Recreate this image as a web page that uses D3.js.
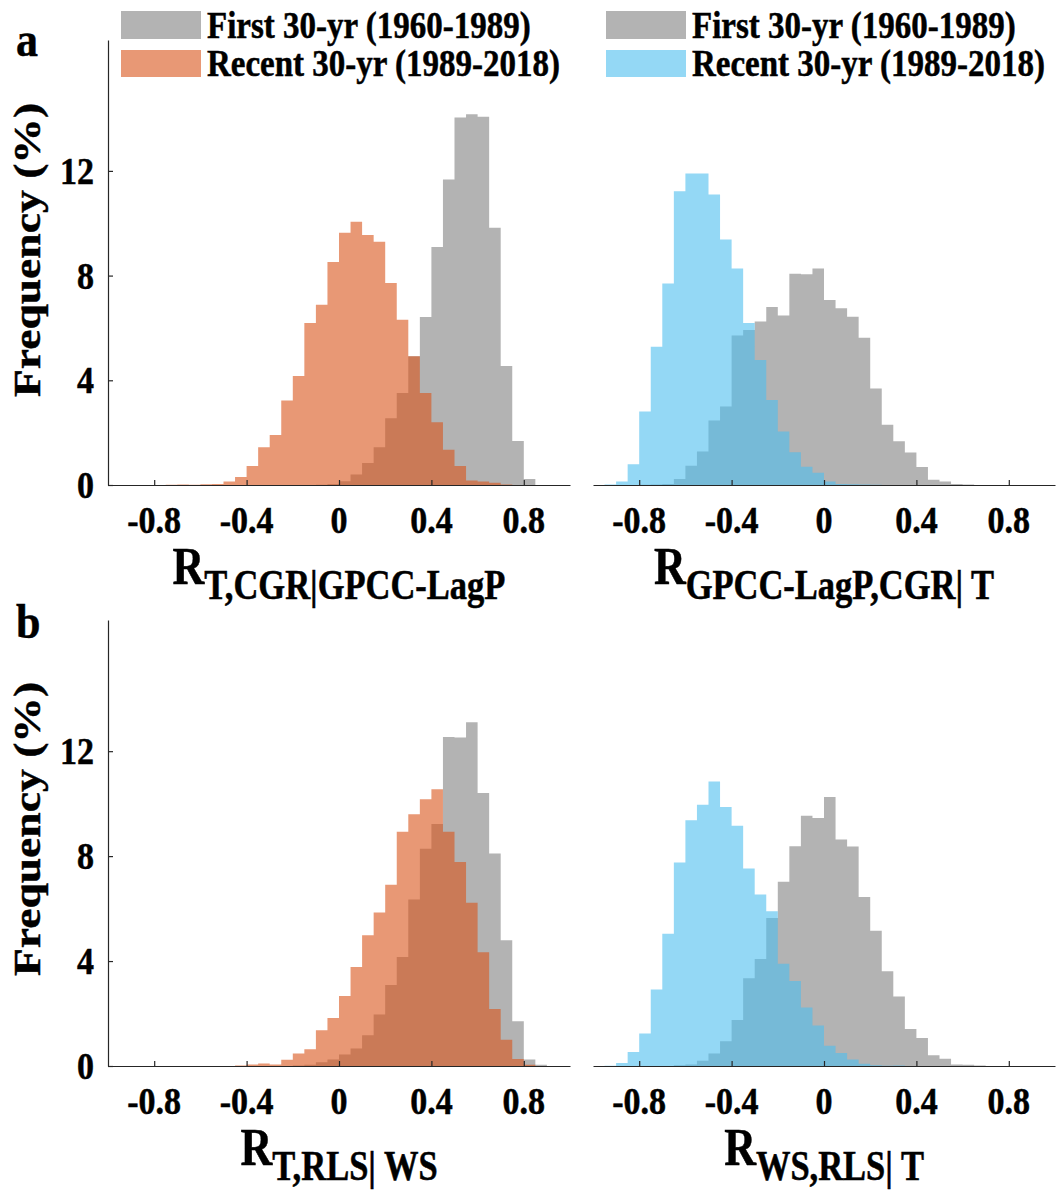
<!DOCTYPE html>
<html>
<head>
<meta charset="utf-8">
<script src="https://cdn.jsdelivr.net/npm/d3@7"></script>
<style>
  html, body { margin: 0; padding: 0; background: #fff; }
  svg text { font-family: "Liberation Serif", "Times New Roman", serif; font-weight: bold; fill: #000; stroke: #000; stroke-width: 0.45px; }
</style>
</head>
<body>
<svg id="chart" width="1058" height="1191"></svg>
<script>
// ---- data: histogram bin starts (bin width 0.05) and frequencies (%) ----
const binStarts = [-1.00,-0.95,-0.90,-0.85,-0.80,-0.75,-0.70,-0.65,-0.60,-0.55,
                   -0.50,-0.45,-0.40,-0.35,-0.30,-0.25,-0.20,-0.15,-0.10,-0.05,
                    0.00, 0.05, 0.10, 0.15, 0.20, 0.25, 0.30, 0.35, 0.40, 0.45,
                    0.50, 0.55, 0.60, 0.65, 0.70, 0.75, 0.80, 0.85, 0.90, 0.95];
const binWidth = 0.05;

// panel a, left: R_T,CGR|GPCC-LagP
const aLeftFirst  = [0,0,0,0,0,0,0,0,0,0, 0,0,0,0,0,0,0,0,0.01,0.04,
                     0.14,0.40,0.84,1.44,2.55,3.51,4.92,6.42,9.09,11.67,
                     14.04,14.16,14.07,9.83,4.55,1.68,0.23,0,0,0];
const aLeftRecent = [0,0,0,0,0,0.01,0.02,0.01,0.03,0.04, 0.13,0.31,0.73,1.44,1.91,3.23,4.16,6.19,6.89,8.52,
                     9.64,10.06,9.55,9.29,7.72,6.31,4.92,3.51,2.40,1.35,
                     0.73,0.17,0.13,0.09,0.02,0,0,0,0,0];
// panel a, right: R_GPCC-LagP,CGR|T
const aRightFirst  = [0,0,0,0,0.01,0.02,0.04,0.23,0.74,1.28, 2.46,3.00,5.71,5.92,6.25,6.80,6.48,8.07,8.05,8.27,
                      7.07,6.75,6.43,5.63,3.69,2.30,1.67,1.24,0.69,0.20,
                      0.13,0.04,0.02,0,0,0,0,0,0,0];
const aRightRecent = [0,0.02,0.13,0.79,2.81,5.28,7.70,11.22,11.90,11.90, 11.10,9.38,8.27,6.19,4.78,3.25,2.04,1.25,0.70,0.47,
                      0.13,0.04,0.03,0.02,0.01,0,0,0,0,0,
                      0,0,0,0,0,0,0,0,0,0];
// panel b, left: R_T,RLS|WS
const bLeftFirst  = [0,0,0,0,0,0,0,0,0,0, 0,0,0,0,0,0,0.02,0.05,0.14,0.25,
                     0.44,0.67,1.17,1.96,3.09,4.15,6.35,8.28,9.22,12.54,
                     12.52,13.10,10.41,8.10,4.79,1.71,0.25,0.05,0,0];
const bLeftRecent = [0,0,0,0,0,0,0,0,0,0, 0,0.02,0.06,0.10,0.06,0.24,0.48,0.64,1.36,1.83,
                     2.67,3.77,4.98,5.85,6.91,8.93,9.60,10.17,10.55,8.93,
                     7.78,6.22,4.34,2.17,1.00,0.27,0.05,0,0,0];
// panel b, right: R_WS,RLS|T
const bRightFirst  = [0,0,0,0,0,0,0,0.03,0.06,0.20, 0.48,0.94,1.75,3.34,4.08,5.64,7.02,8.38,9.54,9.45,
                      10.25,8.63,8.37,6.44,5.16,3.61,2.65,1.41,1.07,0.41,
                      0.28,0.06,0.05,0.02,0,0,0,0,0,0];
const bRightRecent = [0,0.01,0.11,0.53,1.24,2.92,5.04,7.76,9.37,9.96, 10.84,9.87,9.16,7.53,6.54,5.90,3.90,3.24,2.23,1.54,
                      0.77,0.50,0.25,0.09,0.03,0.01,0.02,0,0,0,
                      0,0,0,0,0,0,0,0,0,0];

const xTicks = [-0.8, -0.4, 0, 0.4, 0.8];
const yTicks = [0, 4, 8, 12];
const legendLabels = ["First 30-yr (1960-1989)", "Recent 30-yr (1989-2018)"];
const xTitles = [["R","T,CGR|GPCC-LagP"], ["R","GPCC-LagP,CGR| T"], ["R","T,RLS| WS"], ["R","WS,RLS| T"]];
const panelLetters = ["a", "b"];
const yTitle = "Frequency (%)";

// ---- styles ----
const GRAY = "#808080", ORANGE = "#D95319", BLUE = "#4DBEEE", ALPHA = 0.6, AXIS = "#262626";

const svg = d3.select("#chart");

function txt(g, x, y, s, size, sy, anchor) {
  return g.append("text")
    .attr("transform", `translate(${x},${y}) scale(1,${sy})`)
    .attr("text-anchor", anchor || "start")
    .style("font-size", size + "px")
    .text(s);
}

const panels = [
  {x0:108, x1:570, yb:485, yt:40,  first:aLeftFirst,  recent:aLeftRecent,  color:ORANGE, yaxis:true,  title:xTitles[0]},
  {x0:593, x1:1055, yb:485, yt:40, first:aRightFirst, recent:aRightRecent, color:BLUE,   yaxis:false, title:xTitles[1]},
  {x0:108, x1:570, yb:1066, yt:620, first:bLeftFirst,  recent:bLeftRecent,  color:ORANGE, yaxis:true,  title:xTitles[2]},
  {x0:593, x1:1055, yb:1066, yt:620, first:bRightFirst, recent:bRightRecent, color:BLUE,  yaxis:false, title:xTitles[3]},
];

panels.forEach((p) => {
  const x = d3.scaleLinear().domain([-1, 1]).range([p.x0, p.x1]);
  const y = d3.scaleLinear().domain([0, 17]).range([p.yb, p.yt]);
  const g = svg.append("g");

  const area = d3.area().curve(d3.curveStepAfter)
    .x(d => x(d[0])).y0(y(0)).y1(d => y(d[1]));
  function pts(vals) {
    const a = binStarts.map((b, i) => [b, vals[i]]);
    a.push([binStarts[binStarts.length - 1] + binWidth, vals[vals.length - 1]]);
    return a;
  }
  g.append("path").attr("d", area(pts(p.first))).attr("fill", GRAY).attr("fill-opacity", ALPHA);
  g.append("path").attr("d", area(pts(p.recent))).attr("fill", p.color).attr("fill-opacity", ALPHA);

  // x axis
  const xa = g.append("g").attr("transform", `translate(0,${p.yb})`)
    .call(d3.axisBottom(x).tickValues(xTicks).tickSizeInner(-5).tickSizeOuter(0).tickFormat(d => String(d)));
  xa.selectAll("path, line").attr("stroke", AXIS).attr("stroke-width", 1.2);
  xa.selectAll("text").remove();
  xTicks.forEach(t => txt(g, x(t), p.yb + 48, String(t), 34, 1.1, "middle"));

  if (p.yaxis) {
    const ya = g.append("g").attr("transform", `translate(${p.x0},0)`)
      .call(d3.axisLeft(y).tickValues(yTicks).tickSizeInner(-5).tickSizeOuter(0));
    ya.selectAll("path, line").attr("stroke", AXIS).attr("stroke-width", 1.2);
    ya.selectAll("text").remove();
    yTicks.forEach(t => txt(g, p.x0 - 14, y(t) + 13, String(t), 34, 1.1, "end"));
  }

  // x title: R with subscript
  const cx = (p.x0 + p.x1) / 2;
  const tt = g.append("text")
    .attr("transform", `translate(${cx},${p.yb + 99}) scale(1,1.2)`)
    .attr("text-anchor", "middle")
    .style("font-size", "44px");
  tt.append("tspan").text(p.title[0]);
  tt.append("tspan").attr("dy", 12.5).style("font-size", "34.5px").text(p.title[1]);
});

// y titles
[250, 829].forEach((cy) => {
  svg.append("text")
    .attr("transform", `translate(40,${cy}) rotate(-90) scale(1.2,1)`)
    .attr("text-anchor", "middle")
    .style("font-size", "38px")
    .text(yTitle);
});

// panel letters
txt(svg, 16, 56, panelLetters[0], 44, 1.1, "start");
txt(svg, 16, 638, panelLetters[1], 44, 1.1, "start");

// legends
[[121, ORANGE], [606, BLUE]].forEach(([lx, col]) => {
  const g = svg.append("g");
  g.append("rect").attr("x", lx).attr("y", 11).attr("width", 80).attr("height", 28).attr("fill", GRAY).attr("fill-opacity", ALPHA);
  g.append("rect").attr("x", lx).attr("y", 50).attr("width", 80).attr("height", 27).attr("fill", col).attr("fill-opacity", ALPHA);
  txt(g, lx + 86, 38, legendLabels[0], 33, 1.15, "start");
  txt(g, lx + 86, 76, legendLabels[1], 33, 1.15, "start");
});
</script>
</body>
</html>
